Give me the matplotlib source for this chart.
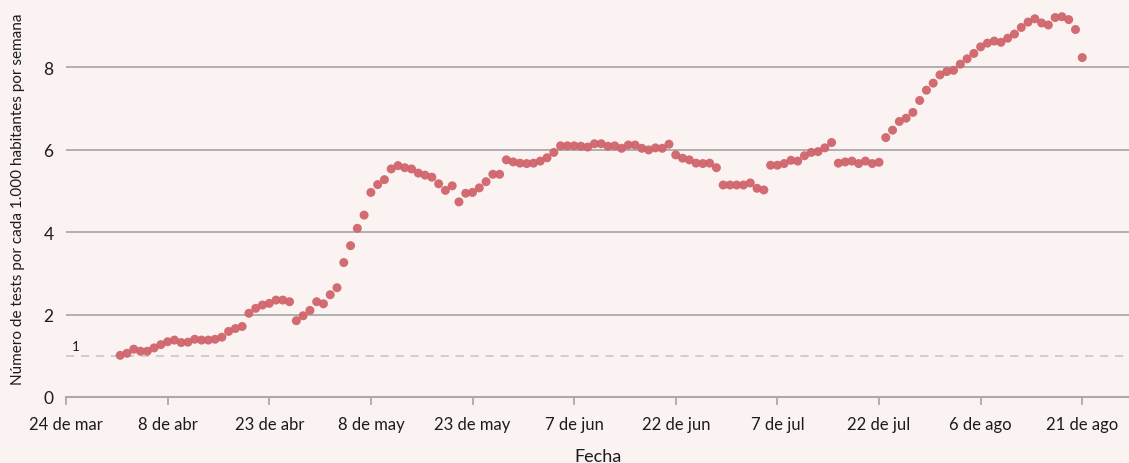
import matplotlib
matplotlib.use("Agg")
import matplotlib.pyplot as plt
import numpy as np
import pandas as pd

plt.rcParams['font.family'] = ['Lato', 'DejaVu Sans']

# tests por cada 1.000 habitantes por semana, un valor diario desde el 1 de abril
start = "2020-04-01"
tests = [
    1.01, 1.06, 1.16, 1.11, 1.11, 1.19, 1.27, 1.34, 1.38, 1.32,
    1.33, 1.40, 1.38, 1.38, 1.40, 1.45, 1.59, 1.66, 1.71, 2.03,
    2.15, 2.23, 2.27, 2.35, 2.35, 2.31, 1.85, 1.97, 2.10, 2.31,
    2.26, 2.48, 2.65, 3.26, 3.67, 4.09, 4.41, 4.96, 5.15, 5.27,
    5.53, 5.61, 5.56, 5.53, 5.43, 5.38, 5.33, 5.17, 5.01, 5.12,
    4.73, 4.94, 4.96, 5.07, 5.22, 5.40, 5.40, 5.75, 5.70, 5.67,
    5.66, 5.67, 5.72, 5.80, 5.93, 6.09, 6.09, 6.09, 6.08, 6.06,
    6.14, 6.14, 6.08, 6.09, 6.03, 6.11, 6.11, 6.03, 5.99, 6.04,
    6.03, 6.13, 5.87, 5.79, 5.75, 5.67, 5.66, 5.67, 5.56, 5.14,
    5.14, 5.14, 5.14, 5.19, 5.06, 5.02, 5.62, 5.62, 5.66, 5.74,
    5.72, 5.85, 5.93, 5.95, 6.04, 6.17, 5.67, 5.70, 5.72, 5.66,
    5.72, 5.66, 5.69, 6.29, 6.47, 6.68, 6.76, 6.90, 7.19, 7.44,
    7.61, 7.81, 7.89, 7.92, 8.07, 8.20, 8.33, 8.49, 8.58, 8.63,
    8.60, 8.70, 8.80, 8.96, 9.09, 9.17, 9.07, 9.02, 9.20, 9.22,
    9.15, 8.91, 8.23,
]
dates = pd.date_range(start, periods=len(tests), freq="D")

tick_dates = pd.to_datetime([
    "2020-03-24", "2020-04-08", "2020-04-23", "2020-05-08", "2020-05-23",
    "2020-06-07", "2020-06-22", "2020-07-07", "2020-07-22", "2020-08-06",
    "2020-08-21",
])
tick_labels = ["24 de mar", "8 de abr", "23 de abr", "8 de may", "23 de may",
               "7 de jun", "22 de jun", "7 de jul", "22 de jul", "6 de ago",
               "21 de ago"]
y_ticks = [0, 2, 4, 6, 8]

bg = "#faf3f2"
dot = "#d0646b"
grey = "#aaaaaa"
ink = "#1c1c1c"

fig = plt.figure(figsize=(11.29, 4.64), dpi=100, facecolor=bg)
ax = fig.add_axes([66 / 1129, 66 / 464, 1 - 66 / 1129, 398 / 464])
ax.set_facecolor(bg)

t0 = tick_dates[0]
ax.set_xlim(t0, t0 + pd.Timedelta(days=156.9))
ax.set_ylim(0, 9.65)

for y in y_ticks[1:]:
    ax.axhline(y, color=grey, lw=1.3, zorder=1)
ax.axhline(1, color="#cccccc", lw=1.3, dashes=(4.5, 3.8), zorder=1)
ax.annotate("1", xy=(t0, 1), xytext=(4, 3), textcoords="offset points",
            fontsize=9.5, color=ink, ha="left", va="bottom")

ax.scatter(dates, tests, s=42, color=dot, edgecolors="none", alpha=0.95, zorder=3)

for s in ["top", "right", "left"]:
    ax.spines[s].set_visible(False)
ax.spines["bottom"].set_color(grey)
ax.spines["bottom"].set_linewidth(1.5)

ax.set_xticks(tick_dates)
ax.set_xticklabels(tick_labels)
ax.set_yticks(y_ticks)
ax.tick_params(axis="x", length=6, width=1.3, color=grey, labelsize=12,
               labelcolor=ink, pad=8)
ax.tick_params(axis="y", length=0, labelsize=12.5, labelcolor=ink, pad=9)

ax.set_xlabel("Fecha", fontsize=13, color=ink, labelpad=11)
ax.set_ylabel("Número de tests por cada 1.000 habitantes por semana",
              fontsize=11, color=ink, labelpad=13)

fig.savefig("out.png", dpi=100, facecolor=bg)
